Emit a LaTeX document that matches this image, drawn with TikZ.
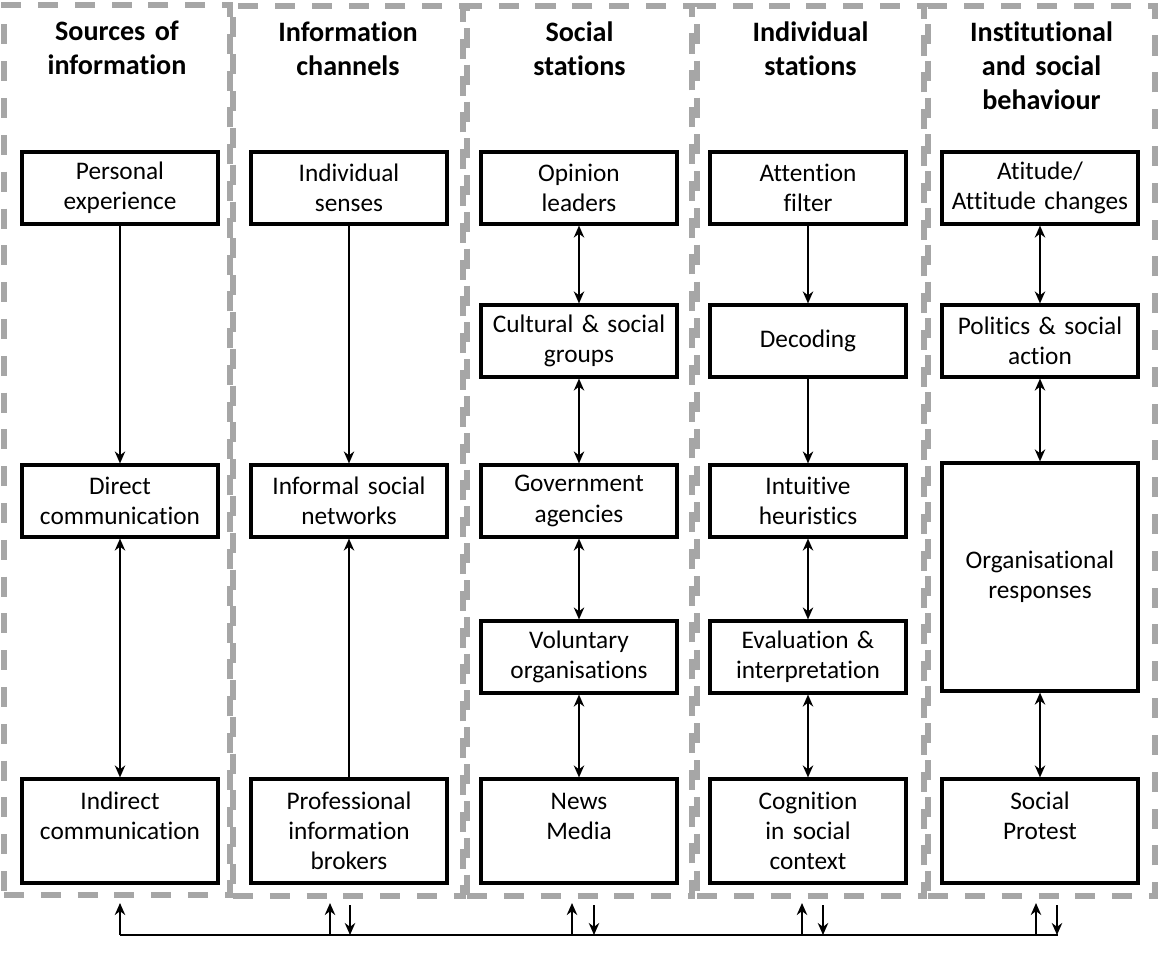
\documentclass[tikz,border=0pt]{standalone}
\usepackage{fontspec}
\setmainfont{Carlito}[Ligatures=NoCommon]
\usetikzlibrary{arrows.meta,positioning}
\definecolor{panelgray}{RGB}{166,166,166}

\begin{document}
\begin{tikzpicture}[x=0.025cm, y=-0.025cm,
  panel/.style={draw=panelgray, line width=4.2pt, dash pattern=on 0.5cm off 0.42cm, minimum height=22.25cm, inner sep=0pt},
  head/.style={anchor=north, text width=5.4cm, align=center, inner sep=0pt, font={\fontsize{20}{24.2}\selectfont\bfseries}},
  box/.style={rectangle, draw, line width=2.2pt, minimum width=4.9cm, minimum height=1.8cm, text width=4.75cm, align=center, inner sep=1pt, font={\fontsize{18}{21.4}\selectfont}},
  tallbox/.style={box, minimum height=2.6cm},
  arr/.style={-{Stealth[length=3mm, width=2.6mm]}, line width=1.8pt},
  dbl/.style={{Stealth[length=3mm, width=2.6mm]}-{Stealth[length=3mm, width=2.6mm]}, line width=1.8pt}]
\useasboundingbox (0,0) rectangle (1160,967);

\node[panel, minimum width=5.65cm] (pan1) at (117,450) {};
\node[panel, minimum width=5.75cm] (pan2) at (348,451) {};
\node[panel, minimum width=5.62cm] (pan3) at (579.5,451) {};
\node[panel, minimum width=5.67cm] (pan4) at (810.5,451) {};
\node[panel, minimum width=5.67cm] (pan5) at (1041.5,451) {};

\node[head] (h1) at (117,21) {Sources of\\information};
\node[head] (h2) at (348,21) {Information\\channels};
\node[head] (h3) at (579.5,21) {Social\\stations};
\node[head] (h4) at (810.5,21) {Individual\\stations};
\node[head] (h5) at (1041.5,21) {Institutional\\and social\\behaviour};

\node[box] (pers) at (120,188) {Personal\\experience};
\node[box] (direct) at (120,501) {Direct\\communication};
\node[tallbox] (indir) at (120,831) {Indirect\\communication\\~};

\node[box] (senses) at (349,188) {Individual\\senses};
\node[box] (informal) at (349,501) {Informal social\\networks};
\node[tallbox] (brokers) at (349,831) {Professional\\information\\brokers};

\node[box] (opin) at (579,188) {Opinion\\leaders};
\node[box] (cult) at (579,341) {Cultural \& social\\groups};
\node[box] (govt) at (579,501) {Government\\agencies};
\node[box] (volun) at (579,657) {Voluntary\\organisations};
\node[tallbox] (news) at (579,831) {News\\Media\\~};

\node[box] (attn) at (808,188) {Attention\\filter};
\node[box] (decod) at (808,341) {Decoding};
\node[box] (intuit) at (808,501) {Intuitive\\heuristics};
\node[box] (evalu) at (808,657) {Evaluation \&\\interpretation};
\node[tallbox] (cognit) at (808,831) {Cognition\\in social\\context};

\node[box] (atti) at (1040,188) {Atitude/\\Attitude changes};
\node[box] (polit) at (1040,341) {Politics \& social\\action};
\node[box, minimum height=5.7cm] (orgresp) at (1040,577) {Organisational\\responses};
\node[tallbox] (protest) at (1040,831) {Social\\Protest\\~};

\draw[arr] (pers) -- (direct);
\draw[dbl] (direct) -- (indir);
\draw[arr] (senses) -- (informal);
\draw[arr] (brokers) -- (informal);
\draw[dbl] (opin) -- (cult);
\draw[dbl] (cult) -- (govt);
\draw[dbl] (govt) -- (volun);
\draw[dbl] (volun) -- (news);
\draw[arr] (attn) -- (decod);
\draw[arr] (decod) -- (intuit);
\draw[dbl] (intuit) -- (evalu);
\draw[dbl] (evalu) -- (cognit);
\draw[dbl] (atti) -- (polit);
\draw[dbl] (polit) -- (orgresp);
\draw[dbl] (orgresp) -- (protest);

\coordinate (busl) at (120,935);
\coordinate (busr) at (1058,935);
\draw[line width=1.8pt] (busl) -- (busr);
\foreach \x [count=\i] in {120,330,572,802,1036} \coordinate (up\i) at (\x,903);
\foreach \x [count=\i] in {350,594,823,1057} \coordinate (dn\i) at (\x,905);
\foreach \i in {1,...,5} \draw[arr] (up\i |- busl) -- (up\i);
\foreach \i in {1,...,4} \draw[arr] (dn\i) -- (dn\i |- busl);
\end{tikzpicture}
\end{document}
